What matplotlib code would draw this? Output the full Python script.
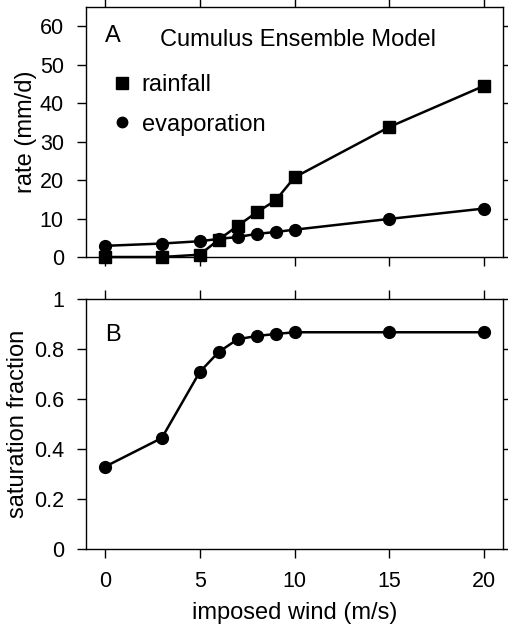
import matplotlib
matplotlib.use("Agg")
import matplotlib.pyplot as plt
from matplotlib.lines import Line2D
from matplotlib.ticker import FormatStrFormatter

# imposed wind (m/s)
wind = [0, 3, 5, 6, 7, 8, 9, 10, 15, 20]
rainfall = [0.0, 0.0, 0.6, 4.5, 8.1, 11.6, 14.7, 20.7, 33.8, 44.5]
evaporation = [2.9, 3.5, 4.1, 4.7, 5.2, 6.0, 6.5, 7.1, 9.9, 12.6]
saturation = [0.329, 0.444, 0.708, 0.788, 0.839, 0.852, 0.860, 0.867, 0.867, 0.867]

x_ticks = [0, 5, 10, 15, 20]
rate_ticks = [0, 10, 20, 30, 40, 50, 60]
sat_ticks = [0, 0.2, 0.4, 0.6, 0.8, 1]

plt.rcParams['font.family'] = ['Liberation Sans', 'DejaVu Sans']

W, H = 508, 625
fig = plt.figure(figsize=(W / 100, H / 100), dpi=100)

left, right = 86 / W, 503 / W
ax1 = fig.add_axes([left, 1 - 257 / H, right - left, 250 / H])
ax2 = fig.add_axes([left, 1 - 549 / H, right - left, 250 / H])


def style(ax):
    ax.set_xlim(-1, 21)
    ax.set_xticks(x_ticks)
    ax.tick_params(direction='out', length=6.5, width=1, top=True, right=True,
                   labelsize=15.5, pad=9.5)
    for s in ax.spines.values():
        s.set_linewidth(1)


style(ax1)
ax1.plot(wind, rainfall, color='black', lw=1.8, marker='s', ms=9, clip_on=False, zorder=3)
ax1.plot(wind, evaporation, color='black', lw=1.8, marker='o', ms=8.5, clip_on=False, zorder=3)
ax1.set_ylim(0, 65)
ax1.set_yticks(rate_ticks)
ax1.set_ylabel('rate (mm/d)', fontsize=17, labelpad=2)
ax1.tick_params(labelbottom=False)
ax1.text(0.045, 0.93, 'A', transform=ax1.transAxes, fontsize=17, va='top', ha='left')
ax1.text(0.508, 0.91, 'Cumulus Ensemble Model', transform=ax1.transAxes, fontsize=17,
         va='top', ha='center')
handles = [Line2D([], [], color='black', marker='s', ms=8, ls='none'),
           Line2D([], [], color='black', marker='o', ms=7.5, ls='none')]
ax1.legend(handles, ['rainfall', 'evaporation'], loc='upper left',
           bbox_to_anchor=(0.029, 0.78), frameon=False, fontsize=17,
           handletextpad=0.34, labelspacing=0.75, borderpad=0, handlelength=1.0)

style(ax2)
ax2.plot(wind, saturation, color='black', lw=1.8, marker='o', ms=8.5, clip_on=False, zorder=3)
ax2.set_ylim(0, 1)
ax2.set_yticks(sat_ticks)
ax2.yaxis.set_major_formatter(FormatStrFormatter('%g'))
ax2.set_ylabel('saturation fraction', fontsize=17, labelpad=3)
ax2.set_xlabel('imposed wind (m/s)', fontsize=17, labelpad=7)
ax2.text(0.045, 0.9, 'B', transform=ax2.transAxes, fontsize=17, va='top', ha='left')

fig.savefig('out.png', dpi=100)
